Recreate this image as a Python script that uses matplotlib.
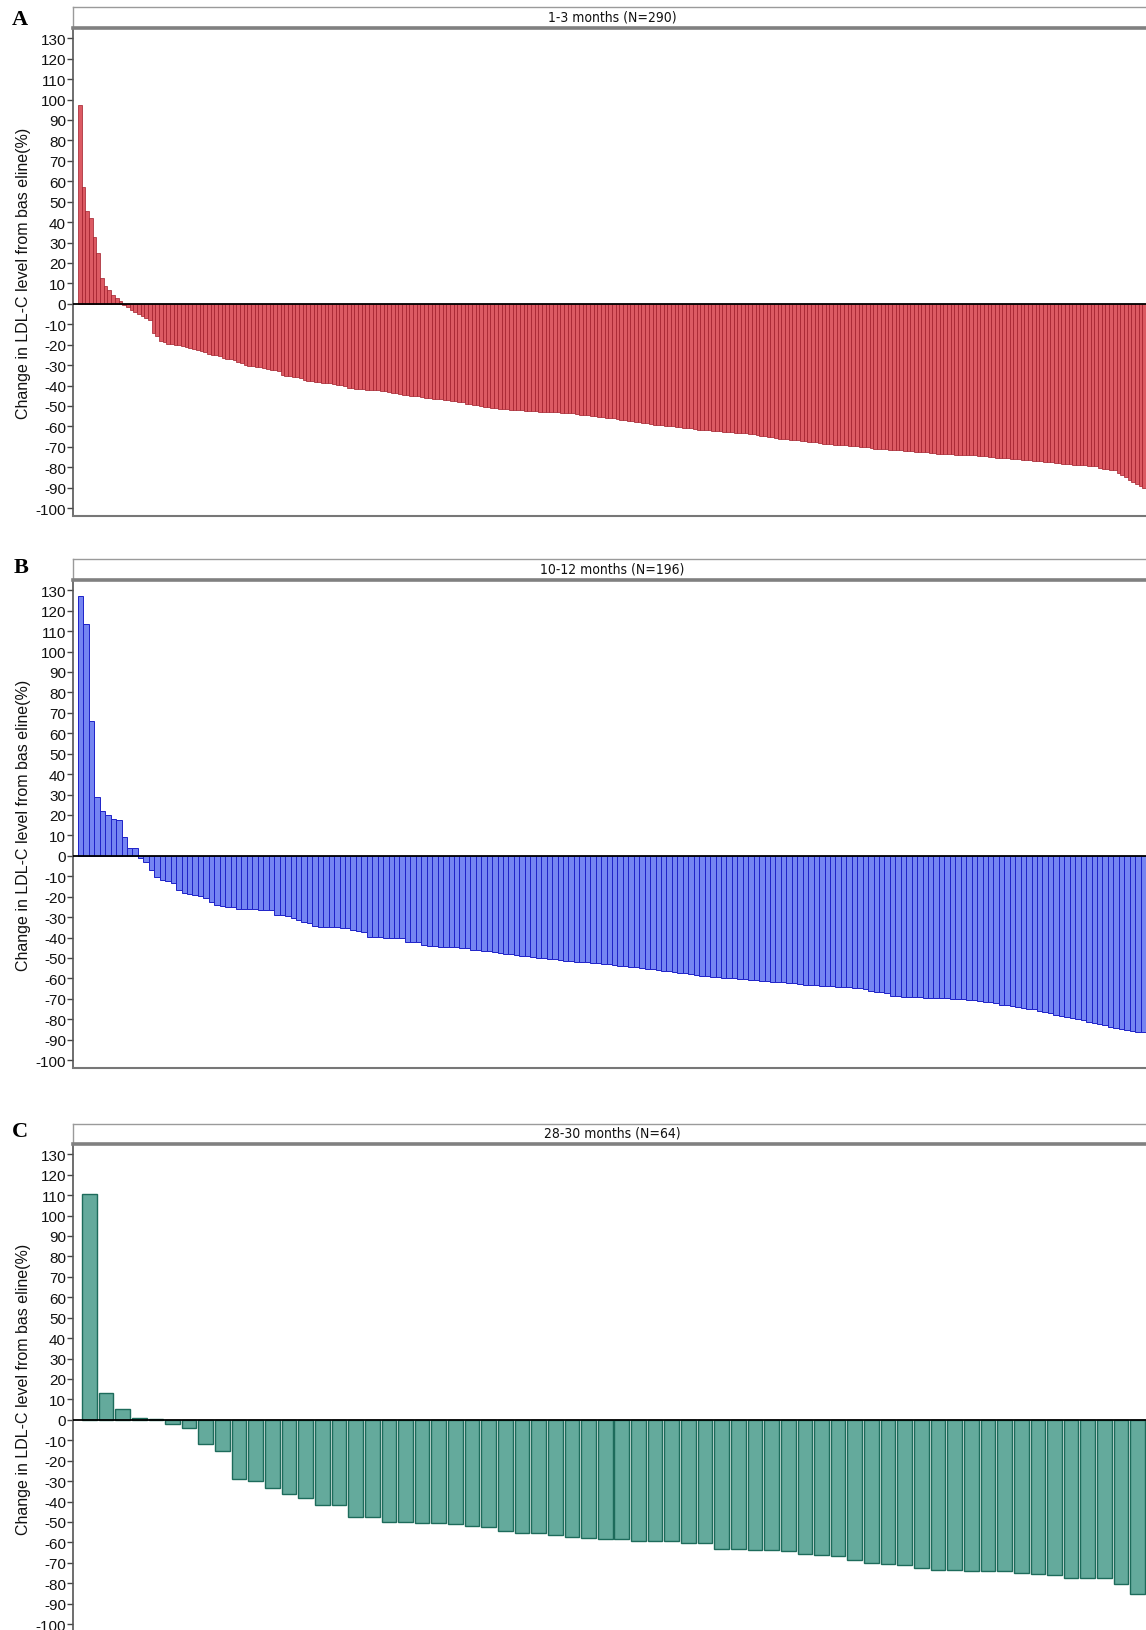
import matplotlib
matplotlib.use("Agg")
import matplotlib.pyplot as plt
from matplotlib import font_manager
import numpy as np

plt.rcParams['font.family'] = ['Liberation Sans', 'DejaVu Sans']
plt.rcParams['axes.unicode_minus'] = False

# ---------------- data ----------------
panel_letters = ["A", "B", "C"]
panel_titles = ["1-3 months (N=290)", "10-12 months (N=196)", "28-30 months (N=64)"]
y_label = "Change in LDL-C level from bas eline(%)"
y_ticks = list(range(-100, 131, 10))

change_1_3 = [
    97.4, 57.4, 45.2, 42.1, 32.5, 25.0, 12.6, 8.6, 7.0, 4.4, 2.8, 1.6,
    -0.8, -1.5, -3.0, -4.0, -5.0, -6.0, -7.0, -8.0,
    -14.5, -16.0, -18.0, -18.5, -19.5,
    -19.7, -20.0, -20.3, -20.7,
    -21.0, -21.5, -22.0, -22.5, -23.0, -23.5,
    -24.5, -25.0, -25.0, -25.5,
    -26.5, -27.0, -27.0, -27.5,
    -28.5, -29.0,
    -30.0, -30.3, -30.5, -30.7, -31.0, -31.2,
    -32.0, -32.3, -32.5, -33.0,
    -35.0, -35.3, -35.5, -35.8, -36.0, -36.5,
    -37.5, -38.0, -38.0, -38.3, -38.5, -38.7, -39.0, -39.0, -39.2, -39.5, -39.7, -40.0,
    -41.0, -41.2, -41.5, -41.5, -41.7, -42.0, -42.0, -42.2, -42.3, -42.5, -42.7,
    -43.3, -43.5, -43.7, -44.0,
    -44.5, -44.7, -45.0, -45.0, -45.3, -45.5,
    -46.0, -46.2, -46.4, -46.5, -46.7, -47.0,
    -47.3, -47.5, -47.7, -48.0, -48.3,
    -48.8, -49.0, -49.3, -49.5, -50.0, -50.3, -50.5,
    -51.0, -51.2, -51.3, -51.5, -51.7, -51.8, -52.0, -52.0, -52.2,
    -52.4, -52.5, -52.6, -52.7, -52.8, -52.9, -53.0, -53.0, -53.1, -53.2, -53.3, -53.4, -53.5, -53.6,
    -54.0, -54.2, -54.4, -54.6, -54.8, -55.0, -55.2,
    -55.5, -55.7, -55.9, -56.0,
    -56.5, -56.7, -57.0, -57.2, -57.5, -57.7, -58.0, -58.2, -58.5,
    -59.0, -59.2, -59.4, -59.5, -59.7, -59.9, -60.0, -60.2, -60.4, -60.6, -60.8, -61.0,
    -61.5, -61.6, -61.8, -61.9, -62.0, -62.2, -62.3, -62.4, -62.6, -62.7, -62.8, -63.0,
    -63.1, -63.2, -63.4, -63.6, -63.8, -64.0,
    -64.5, -64.8, -65.0, -65.2, -65.5,
    -66.0, -66.2, -66.4, -66.5, -66.7, -66.9, -67.0, -67.2, -67.4, -67.6, -67.8, -68.0,
    -68.5, -68.6, -68.8, -68.9, -69.0, -69.2, -69.3, -69.5, -69.6, -69.8, -70.0, -70.1, -70.3, -70.5,
    -71.0, -71.1, -71.2, -71.3, -71.5, -71.6, -71.7, -71.8, -72.0, -72.1, -72.2, -72.3, -72.5,
    -72.6, -72.7, -72.8, -73.0,
    -73.3, -73.4, -73.5, -73.6, -73.7, -73.8, -73.9, -74.0, -74.0, -74.1, -74.2, -74.3, -74.4, -74.5,
    -75.0, -75.1, -75.3, -75.4, -75.6, -75.7, -75.9, -76.0, -76.2, -76.3, -76.5, -76.6, -76.8,
    -76.9, -77.0, -77.2, -77.3, -77.5,
    -78.0, -78.1, -78.3, -78.4, -78.5, -78.7, -78.8, -79.0, -79.1, -79.2, -79.4, -79.5,
    -80.5, -80.8, -81.0, -81.3, -81.5,
    -83.0, -84.0, -85.0,
    -86.0, -87.0, -88.0,
    -89.0, -90.0,
]

change_10_12 = [
    127.0, 113.5, 66.0, 29.0, 22.0, 20.0, 18.0, 17.5, 9.0, 3.7, 3.7,
    -1.0, -3.0, -7.0, -10.5,
    -12.0, -12.5, -13.5,
    -16.5,
    -18.0, -18.5, -19.0, -19.5,
    -20.7, -22.4,
    -24.0, -24.5, -25.0, -25.0,
    -25.8, -26.0, -26.0, -26.2, -26.3, -26.5, -26.7,
    -29.0, -29.1, -29.3,
    -30.5, -31.5, -32.5, -33.0,
    -34.5, -34.7, -34.8, -35.0, -35.0, -35.2, -35.5,
    -36.5, -37.0, -37.5,
    -39.5, -39.7, -39.8, -40.0, -40.0, -40.1, -40.3,
    -42.0, -42.0, -42.2,
    -43.5, -44.0, -44.2, -44.4, -44.5, -44.7, -44.8, -45.0, -45.2,
    -46.0, -46.3, -46.5, -46.8, -47.0,
    -47.5, -48.0, -48.3, -48.6, -49.0, -49.2, -49.5, -49.8, -50.0, -50.3, -50.5,
    -51.0, -51.3, -51.5, -51.8, -52.0, -52.2, -52.4, -52.6, -52.8, -53.0,
    -53.5, -53.8, -54.0, -54.2, -54.5,
    -55.0, -55.3, -55.6, -56.0, -56.3, -56.6, -57.0, -57.3, -57.6, -58.0,
    -58.5, -58.8, -59.0, -59.2, -59.4, -59.6, -59.8, -60.0, -60.2, -60.4, -60.6, -60.8,
    -61.2, -61.4, -61.6, -61.8, -62.0, -62.2, -62.4,
    -62.8, -63.0, -63.2, -63.4, -63.5, -63.7, -63.9, -64.0, -64.2, -64.4, -64.6, -64.8, -65.0,
    -66.0, -66.5, -66.8, -67.0,
    -68.5, -68.7, -68.9, -69.0, -69.1, -69.3, -69.4, -69.5, -69.6, -69.7, -69.8, -70.0,
    -70.1, -70.3, -70.5, -70.7,
    -71.2, -71.5, -71.8, -72.0,
    -72.8, -73.2, -73.6, -74.0, -74.4, -74.8, -75.2,
    -76.0, -76.5, -77.0,
    -77.8, -78.3, -78.8, -79.3, -79.8, -80.3,
    -81.5, -82.0, -82.5, -83.0,
    -84.0, -84.5, -85.0, -85.3,
    -85.8, -86.0, -86.3,
]

change_28_30 = [
    110.5, 13.0, 5.5, 0.8, 0.6, -2.0, -4.2, -11.7, -15.2, -29.0, -29.9, -33.6, -36.5,
    -38.5, -41.9, -41.9, -47.6, -47.8, -49.9, -49.9, -50.4, -50.7, -51.2, -52.0, -52.3,
    -54.3, -55.3, -55.6, -56.4, -57.6, -58.0, -58.1, -58.2, -59.2, -59.2, -59.5, -60.2,
    -60.5, -63.0, -63.0, -63.5, -63.6, -64.1, -65.9, -66.2, -66.6, -68.4, -70.0, -70.5,
    -71.0, -72.4, -73.7, -73.7, -73.9, -74.1, -74.2, -75.0, -75.7, -76.0, -77.2, -77.3,
    -77.5, -80.6, -85.5,
]

series = [change_1_3, change_10_12, change_28_30]
fills = ["#dc5a63", "#7585f2", "#64aa9c"]
edges = ["#a01c28", "#1e22c8", "#1d6b5b"]
bar_widths = [1.0, 1.0, 0.88]
edge_lw = [0.5, 0.7, 1.0]

# title font: a narrow face if one is installed
_names = {f.name for f in font_manager.fontManager.ttflist}
if "Liberation Sans Narrow" in _names:
    title_font = dict(family=["Liberation Sans Narrow", "DejaVu Sans"])
else:
    title_font = dict(family=["DejaVu Sans"], fontstretch="condensed")

# ---------------- layout (pixels) ----------------
W, H = 1146, 1631
fig = plt.figure(figsize=(W / 100, H / 100), dpi=100)

def rect(l, t, r, b):
    return [l / W, 1 - b / H, (r - l) / W, (b - t) / H]

ax_left = 73
strip_tops = [8, 560, 1125]
axes_tops = [29, 581, 1145]
ylo, yhi = -104, 135
px_per_unit = 2.043
margins = [5, 5, 8]
letter_pos = [(12, 10), (14, 558), (12, 1122)]

for k in range(3):
    vals = series[k]
    n = len(vals)
    top = axes_tops[k]
    bottom = top + (yhi - ylo) * px_per_unit
    ax = fig.add_axes(rect(ax_left, top, W, bottom))
    x = np.arange(1, n + 1)
    ax.bar(x, vals, width=bar_widths[k], color=fills[k], edgecolor=edges[k],
           linewidth=edge_lw[k], zorder=2)
    ax.axhline(0, color="black", lw=1.3, zorder=3)
    pitch = (W - ax_left - margins[k]) / n
    ax.set_xlim(0.5 - margins[k] / pitch, n + 0.5)
    ax.set_ylim(ylo, yhi)
    ax.set_yticks(y_ticks)
    ax.set_yticklabels([str(t) for t in y_ticks], fontsize=11, color="#111111")
    ax.tick_params(axis="y", direction="out", length=4, width=1, color="#444444", pad=1)
    ax.set_xticks([])
    for s in ["top", "right"]:
        ax.spines[s].set_visible(False)
    ax.spines["left"].set_color("#555555")
    ax.spines["left"].set_linewidth(1.2)
    ax.spines["bottom"].set_color("#777777")
    ax.spines["bottom"].set_linewidth(1.5)
    ax.set_ylabel(y_label, fontsize=11.5, labelpad=3, color="#111111")

    # title strip
    sax = fig.add_axes(rect(ax_left, strip_tops[k], W + 5, top))
    sax.set_xticks([])
    sax.set_yticks([])
    sax.set_xlim(0, 1)
    sax.set_ylim(0, 1)
    sax.spines["right"].set_visible(False)
    for s in ["top", "left"]:
        sax.spines[s].set_color("#9a9a9a")
        sax.spines[s].set_linewidth(1.0)
    sax.spines["bottom"].set_color("#808080")
    sax.spines["bottom"].set_linewidth(2.6)
    sax.text(0.5, 0.55, panel_titles[k], ha="center", va="center", fontsize=10,
             color="#111111", **title_font)

    lx, ly = letter_pos[k]
    fig.text(lx / W, 1 - ly / H, panel_letters[k], ha="left", va="top",
             fontsize=16, fontweight="bold", family=["Liberation Serif", "DejaVu Serif"])

fig.savefig("out.png", dpi=100)
